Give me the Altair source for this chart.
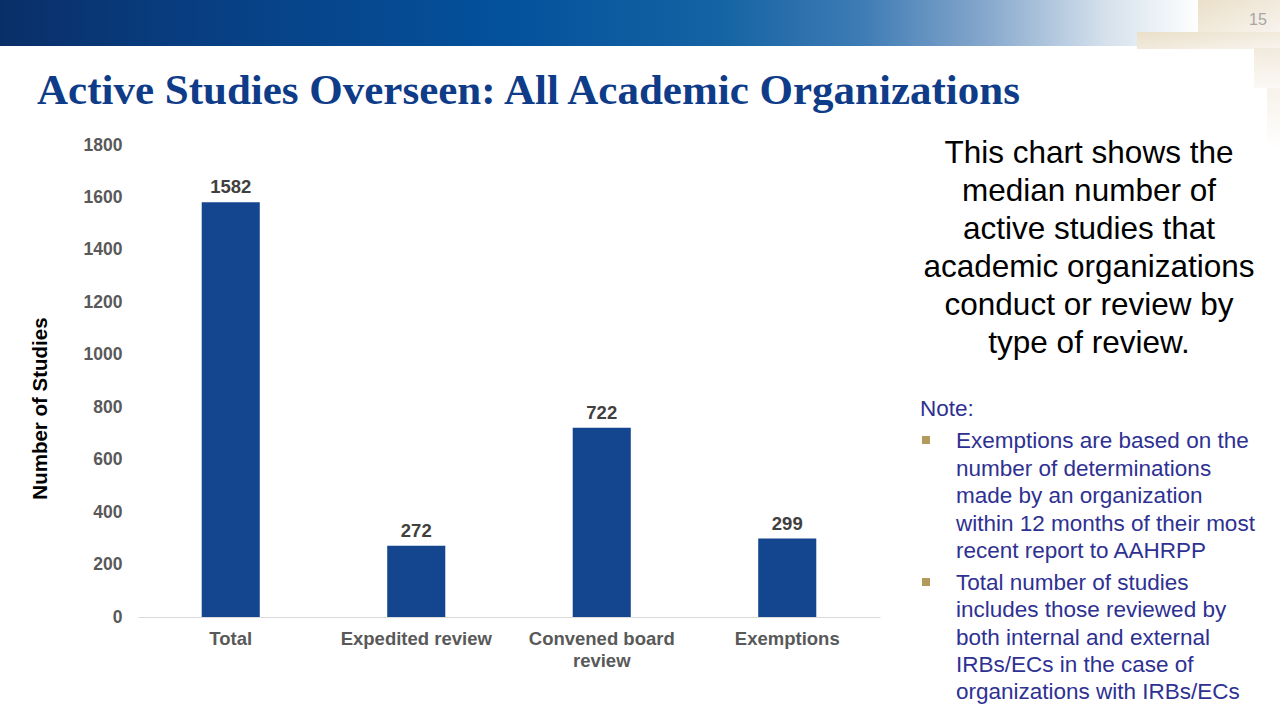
import altair as alt
import pandas as pd

# ---- data ----
categories = ["Total", "Expedited review", "Convened board review", "Exemptions"]
values = [1582, 272, 722, 299]
y_ticks = [0, 200, 400, 600, 800, 1000, 1200, 1400, 1600, 1800]

title_text = "Active Studies Overseen: All Academic Organizations"
desc_lines = ["This chart shows the", "median number of", "active studies that",
              "academic organizations", "conduct or review by", "type of review."]
note_title = "Note:"
bullet1 = ["Exemptions are based on the", "number of determinations",
           "made by an organization", "within 12 months of their most",
           "recent report to AAHRPP"]
bullet2 = ["Total number of studies", "includes those reviewed by",
           "both internal and external", "IRBs/ECs in the case of",
           "organizations with IRBs/ECs"]

df = pd.DataFrame({"cat": categories, "val": values})

W, H = 742, 472
OX, OY = 138, 145  # plot origin on the page

def px(x):
    return x - OX

def py(y):
    return y - OY

one = alt.Data(values=[{"a": 1}])

x_enc = alt.X("cat:N", sort=categories, title=None,
              scale=alt.Scale(paddingInner=0.687, paddingOuter=0.3435),
              axis=alt.Axis(labelAngle=0, labelFont="Liberation Sans", labelFontSize=18.5,
                            labelFontWeight="bold", labelColor="#595959", labelPadding=12,
                            labelLineHeight=22, ticks=False, domainColor="#d9d9d9",
                            domainWidth=1.2,
                            labelExpr="datum.label == 'Convened board review' ? ['Convened board', 'review'] : datum.label"))
y_enc = alt.Y("val:Q", title="Number of Studies",
              scale=alt.Scale(domain=[0, 1800], nice=False),
              axis=alt.Axis(values=y_ticks, format="d", grid=False, domain=False, ticks=False,
                            labelFont="Liberation Sans", labelFontSize=17.5, labelFontWeight="bold",
                            labelColor="#595959", labelPadding=16,
                            titleFont="Liberation Sans", titleFontSize=20.5, titleFontWeight="bold",
                            titleColor="#000000", titleX=px(40), titleY=py(408),
                            titleAngle=270, titleAlign="center", titleBaseline="middle"))

bars = alt.Chart(df).mark_bar(color="#13468f").encode(x=x_enc, y=y_enc)
labels = alt.Chart(df).mark_text(font="Liberation Sans", fontSize=18.5, fontWeight="bold",
                                 color="#404040", baseline="bottom", dy=-5).encode(
    x=alt.X("cat:N", sort=categories), y="val:Q", text="val:Q")

# header gradient band
band = alt.Chart(one).mark_rect(
    color=alt.Gradient(gradient="linear", x1=0, x2=1, y1=0, y2=0, stops=[
        alt.GradientStop(offset=0.0, color="#0a2f68"),
        alt.GradientStop(offset=0.15, color="#083d80"),
        alt.GradientStop(offset=0.42, color="#04519c"),
        alt.GradientStop(offset=0.6, color="#1463a3"),
        alt.GradientStop(offset=0.72, color="#3f7cb5"),
        alt.GradientStop(offset=0.82, color="#85a7cc"),
        alt.GradientStop(offset=0.92, color="#d4e0ec"),
        alt.GradientStop(offset=1.0, color="#ffffff"),
    ])).encode(x=alt.value(px(0)), x2=alt.value(px(1200)), y=alt.value(py(0)), y2=alt.value(py(46)))

beige_grad = alt.Gradient(gradient="linear", x1=0, x2=1, y1=0, y2=1, stops=[
    alt.GradientStop(offset=0.0, color="#eadfc9"),
    alt.GradientStop(offset=1.0, color="#f8f4ee"),
])
beige1 = alt.Chart(one).mark_rect(color=beige_grad).encode(
    x=alt.value(px(1198)), x2=alt.value(px(1280)), y=alt.value(py(0)), y2=alt.value(py(33)))
beige2 = alt.Chart(one).mark_rect(color=beige_grad).encode(
    x=alt.value(px(1137)), x2=alt.value(px(1280)), y=alt.value(py(32)), y2=alt.value(py(49)))
beige3 = alt.Chart(one).mark_rect(color=alt.Gradient(gradient="linear", x1=0, x2=0, y1=0, y2=1, stops=[
    alt.GradientStop(offset=0.0, color="#f1e9dc"),
    alt.GradientStop(offset=1.0, color="#fbf9f6")])).encode(
    x=alt.value(px(1254)), x2=alt.value(px(1280)), y=alt.value(py(48)), y2=alt.value(py(88)))
beige4 = alt.Chart(one).mark_rect(color=alt.Gradient(gradient="linear", x1=0, x2=0, y1=0, y2=1, stops=[
    alt.GradientStop(offset=0.0, color="#f7f2ea"),
    alt.GradientStop(offset=1.0, color="#ffffff")])).encode(
    x=alt.value(px(1267)), x2=alt.value(px(1280)), y=alt.value(py(88)), y2=alt.value(py(150)))

page_no = alt.Chart(one).mark_text(text="15", font="Liberation Sans", fontSize=16,
                                   color="#a6a6a6", align="center", baseline="middle").encode(
    x=alt.value(px(1258)), y=alt.value(py(20)))

title = alt.Chart(one).mark_text(text=title_text, font="Liberation Serif", fontSize=43,
                                 fontWeight="bold", color="#0f3c88", align="left",
                                 baseline="alphabetic").encode(
    x=alt.value(px(37)), y=alt.value(py(104)))

desc = alt.Chart(one).mark_text(text=desc_lines, font="Liberation Sans", fontSize=31.5,
                                lineHeight=38, color="#000000", align="center",
                                baseline="alphabetic").encode(
    x=alt.value(px(1089)), y=alt.value(py(163)))

note_color = "#2e3192"
note = alt.Chart(one).mark_text(text=note_title, font="Liberation Sans", fontSize=22.5,
                                color=note_color, align="left", baseline="alphabetic").encode(
    x=alt.value(px(920)), y=alt.value(py(416)))
b1 = alt.Chart(one).mark_text(text=bullet1, font="Liberation Sans", fontSize=22.5, lineHeight=27.5,
                              color=note_color, align="left", baseline="alphabetic").encode(
    x=alt.value(px(956)), y=alt.value(py(448)))
b2 = alt.Chart(one).mark_text(text=bullet2, font="Liberation Sans", fontSize=22.5, lineHeight=27.3,
                              color=note_color, align="left", baseline="alphabetic").encode(
    x=alt.value(px(956)), y=alt.value(py(590)))
sq1 = alt.Chart(one).mark_rect(color="#b39a5c").encode(
    x=alt.value(px(922)), x2=alt.value(px(930)), y=alt.value(py(436)), y2=alt.value(py(444)))
sq2 = alt.Chart(one).mark_rect(color="#b39a5c").encode(
    x=alt.value(px(922)), x2=alt.value(px(930)), y=alt.value(py(578)), y2=alt.value(py(586)))

chart = alt.layer(
    band, beige1, beige2, beige3, beige4, page_no, title, bars, labels,
    desc, note, b1, b2, sq1, sq2
).properties(
    width=W, height=H,
    autosize=alt.AutoSizeParams(type="none"),
    padding={"left": OX, "top": OY, "right": 1280 - OX - W, "bottom": 720 - OY - H},
    background="#ffffff",
).configure_view(stroke=None)

chart.save("out.html", embed_options={"renderer": "svg", "actions": False})
